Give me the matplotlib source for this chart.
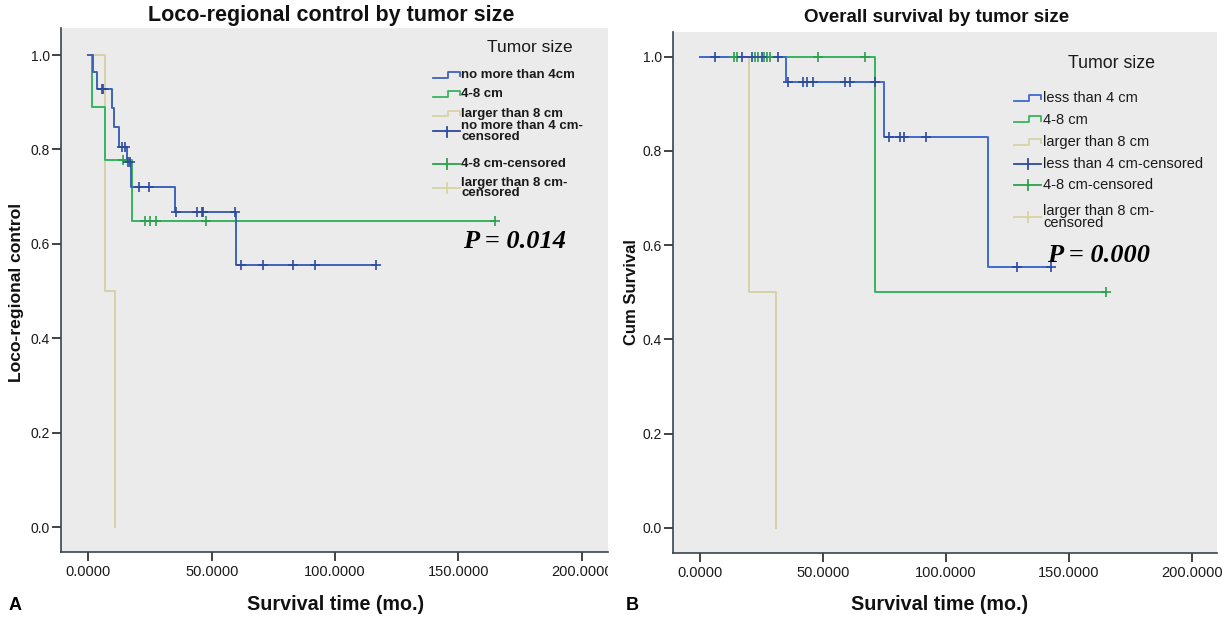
import numpy as np
import matplotlib
matplotlib.use("Agg")
import matplotlib.pyplot as plt
from matplotlib.lines import Line2D
from matplotlib.transforms import Bbox, TransformedBbox

# ---------------- data ----------------
# Panel A: loco-regional control
a_le4_event_t = [2.0, 3.4, 9.5, 10.5, 12.6, 15.6, 17.3, 35.1, 59.7]
a_le4_surv = [0.965, 0.929, 0.887, 0.848, 0.806, 0.774, 0.721, 0.668, 0.556]
a_le4_end = 116.6
a_le4_cens = [5.4, 6.1, 13.5, 14.9, 16.0, 16.9, 20.6, 24.7, 35.5, 43.9, 46.0, 46.6,
              59.3, 61.7, 70.8, 82.9, 91.7, 116.6]

a_48_event_t = [1.6, 6.8, 17.6]
a_48_surv = [0.889, 0.778, 0.648]
a_48_end = 165.0
a_48_cens = [14.2, 22.8, 25.2, 27.3, 47.9, 165.0]

a_gt8_event_t = [6.8, 11.0]
a_gt8_surv = [0.5, 0.0]
a_gt8_end = 11.0
a_gt8_cens = []

# Panel B: overall survival
b_lt4_event_t = [35.0, 74.8, 117.1]
b_lt4_surv = [0.946, 0.829, 0.553]
b_lt4_end = 142.7
b_lt4_cens = [6.1, 16.9, 21.0, 25.1, 31.8, 35.6, 42.0, 43.6, 46.1, 59.0, 61.0, 71.1,
              77.0, 81.3, 83.1, 91.7, 128.9, 142.7]

b_48_event_t = [71.1]
b_48_surv = [0.5]
b_48_end = 165.0
b_48_cens = [13.8, 15.2, 22.4, 23.4, 26.0, 27.4, 28.5, 48.1, 67.1, 165.0]

b_gt8_event_t = [19.9, 30.9]
b_gt8_surv = [0.5, 0.0]
b_gt8_end = 30.9
b_gt8_cens = []

x_ticks = [0, 50, 100, 150, 200]
x_tick_labels = ["0.0000", "50.0000", "100.0000", "150.0000", "200.0000"]
y_ticks = [0.0, 0.2, 0.4, 0.6, 0.8, 1.0]
y_tick_labels = ["0.0", "0.2", "0.4", "0.6", "0.8", "1.0"]

a_legend_labels = ["no more than 4cm", "4-8 cm", "larger than 8 cm",
                   "no more than 4 cm-\ncensored", "4-8 cm-censored",
                   "larger than 8 cm-\ncensored"]
b_legend_labels = ["less than 4 cm", "4-8 cm", "larger than 8 cm",
                   "less than 4 cm-censored", "4-8 cm-censored",
                   "larger than 8 cm-\ncensored"]

# ---------------- styling ----------------
W, H = 1230, 618
SANS = "Liberation Sans"
SERIF = "Liberation Serif"
BLUE_A = "#4063b5"
BLUE_B = "#3f6ad0"
BLUE_C = "#2c4a9e"
GREEN = "#38b460"
GREEN_C = "#2aa04e"
TAN = "#d6d2a6"
FACE = "#ebebeb"
SPINE = "#3a4550"


def fx(x):
    return x / W


def fy(y):
    return 1 - y / H


fig = plt.figure(figsize=(W / 100, H / 100), dpi=100)
fig.patch.set_facecolor("white")


def level_at(times, levels, t):
    idx = np.searchsorted(np.asarray(times), t, side="right")
    lv = [1.0] + list(levels)
    return lv[idx]


def draw_curve(ax, ev_t, surv, end, cens, color, ccolor):
    t = [0.0] + list(ev_t)
    s = [1.0] + list(surv)
    if end > t[-1]:
        t = t + [end]
        s = s + [s[-1]]
    ax.step(t, s, where="post", color=color, lw=1.4, zorder=3)
    if len(cens):
        cy = [level_at(ev_t, surv, c) for c in cens]
        ax.plot(cens, cy, ls="none", marker="+", ms=7, mew=1.2,
                color=ccolor, zorder=4)


def style_axes(ax, xlim, ylim):
    ax.set_facecolor(FACE)
    ax.set_xlim(*xlim)
    ax.set_ylim(*ylim)
    for sp in ("top", "right"):
        ax.spines[sp].set_visible(False)
    for sp in ("left", "bottom"):
        ax.spines[sp].set_color(SPINE)
        ax.spines[sp].set_linewidth(1.2)
    ax.set_xticks(x_ticks)
    ax.set_xticklabels(x_tick_labels)
    ax.set_yticks(y_ticks)
    ax.set_yticklabels(y_tick_labels)
    ax.tick_params(axis="both", length=6.5, width=1.2, color="#222222",
                   labelcolor="#1a1a1a")
    ax.tick_params(axis="x", labelsize=10.5, pad=3)
    ax.tick_params(axis="y", labelsize=10, pad=1.5)
    for lab in ax.get_xticklabels() + ax.get_yticklabels():
        lab.set_fontfamily(SANS)


# ---------------- panel A ----------------
axA = fig.add_axes([fx(61), fy(552), (608 - 61) / W, (552 - 28) / H])
style_axes(axA, (-11.07, 210.66), (-0.0523, 1.0572))
draw_curve(axA, a_gt8_event_t, a_gt8_surv, a_gt8_end, a_gt8_cens, TAN, TAN)
draw_curve(axA, a_48_event_t, a_48_surv, a_48_end, a_48_cens, GREEN, GREEN_C)
draw_curve(axA, a_le4_event_t, a_le4_surv, a_le4_end, a_le4_cens, BLUE_A, BLUE_C)

# ---------------- panel B ----------------
axB = fig.add_axes([fx(673), fy(553), (1217 - 673) / W, (553 - 32) / H])
style_axes(axB, (-10.98, 210.2), (-0.0537, 1.0524))
draw_curve(axB, b_gt8_event_t, b_gt8_surv, b_gt8_end, b_gt8_cens, TAN, TAN)
draw_curve(axB, b_48_event_t, b_48_surv, b_48_end, b_48_cens, GREEN, GREEN_C)
draw_curve(axB, b_lt4_event_t, b_lt4_surv, b_lt4_end, b_lt4_cens, BLUE_B, BLUE_C)

# clip the last x label of panel A as in the source image
fig.canvas.draw()
clipbox = TransformedBbox(Bbox.from_extents(0, 0, fx(608), 1), fig.transFigure)
lastA = axA.xaxis.get_major_ticks()[-1].label1
lastA.set_clip_on(True)
lastA.set_clip_box(clipbox)

# ---------------- texts ----------------
fig.text(fx(331), fy(16), "Loco-regional control by tumor size", ha="center",
         va="center", fontsize=15.5, fontweight="bold", family=SANS, color="#111111")
fig.text(fx(937), fy(18), "Overall survival by tumor size", ha="center",
         va="center", fontsize=13.5, fontweight="bold", family=SANS, color="#111111")
fig.text(fx(336), fy(604), "Survival time (mo.)", ha="center", va="center",
         fontsize=14.2, fontweight="bold", family=SANS, color="#111111")
fig.text(fx(940), fy(604), "Survival time (mo.)", ha="center", va="center",
         fontsize=14.2, fontweight="bold", family=SANS, color="#111111")
fig.text(fx(17), fy(292), "Loco-regional control", ha="center", va="center",
         rotation=90, fontsize=12.6, fontweight="bold", family=SANS, color="#111111")
fig.text(fx(631), fy(292), "Cum Survival", ha="center", va="center",
         rotation=90, fontsize=12, fontweight="bold", family=SANS, color="#111111")
fig.text(fx(15), fy(606), "A", ha="center", va="center", fontsize=13,
         fontweight="bold", family=SANS)
fig.text(fx(632), fy(606), "B", ha="center", va="center", fontsize=13,
         fontweight="bold", family=SANS)

fig.text(fx(515), fy(242), "P = 0.014", ha="center", va="center", fontsize=19,
         fontweight="bold", fontstyle="italic", family=SERIF)
fig.text(fx(1099), fy(255), "P = 0.000", ha="center", va="center", fontsize=19,
         fontweight="bold", fontstyle="italic", family=SERIF)


# ---------------- legends (drawn by hand to mimic SPSS) ----------------
def step_handle(x0, y, color, w=27):
    xs = [x0, x0 + w * 0.55, x0 + w * 0.55, x0 + w, x0 + w]
    ys = [y + 2.5, y + 2.5, y - 3.5, y - 3.5, y + 1]
    fig.add_artist(Line2D([fx(v) for v in xs], [fy(v) for v in ys],
                          transform=fig.transFigure, color=color, lw=1.3))


def cens_handle(x0, y, color, w=27):
    fig.add_artist(Line2D([fx(x0), fx(x0 + w)], [fy(y), fy(y)],
                          transform=fig.transFigure, color=color, lw=1.3))
    fig.add_artist(Line2D([fx(x0 + w / 2), fx(x0 + w / 2)], [fy(y - 5), fy(y + 5)],
                          transform=fig.transFigure, color=color, lw=1.3))


# panel A legend
fig.text(fx(530), fy(47), "Tumor size", ha="center", va="center", fontsize=12.5,
         family=SANS, color="#1a1a1a")
a_ys = [75, 94, 114, 131.5, 164, 188]
a_colors = [BLUE_A, GREEN, TAN, BLUE_C, GREEN_C, TAN]
for i, (lab, y) in enumerate(zip(a_legend_labels, a_ys)):
    if i < 3:
        step_handle(433, y, a_colors[i])
    else:
        cens_handle(433, y, a_colors[i])
    fig.text(fx(461), fy(y), lab, ha="left", va="center", fontsize=9.5,
             fontweight="bold", family=SANS, color="#1a1a1a", linespacing=0.85)

# panel B legend
fig.text(fx(1111), fy(63), "Tumor size", ha="center", va="center", fontsize=12.8,
         family=SANS, color="#1a1a1a")
b_ys = [98, 120, 142, 164, 185, 217]
b_colors = [BLUE_B, GREEN, TAN, BLUE_C, GREEN_C, TAN]
for i, (lab, y) in enumerate(zip(b_legend_labels, b_ys)):
    if i < 3:
        step_handle(1014, y, b_colors[i])
    else:
        cens_handle(1014, y, b_colors[i])
    fig.text(fx(1043), fy(y), lab, ha="left", va="center", fontsize=10.5,
             family=SANS, color="#1a1a1a", linespacing=0.9)

fig.savefig("out.png", dpi=100, facecolor="white")
